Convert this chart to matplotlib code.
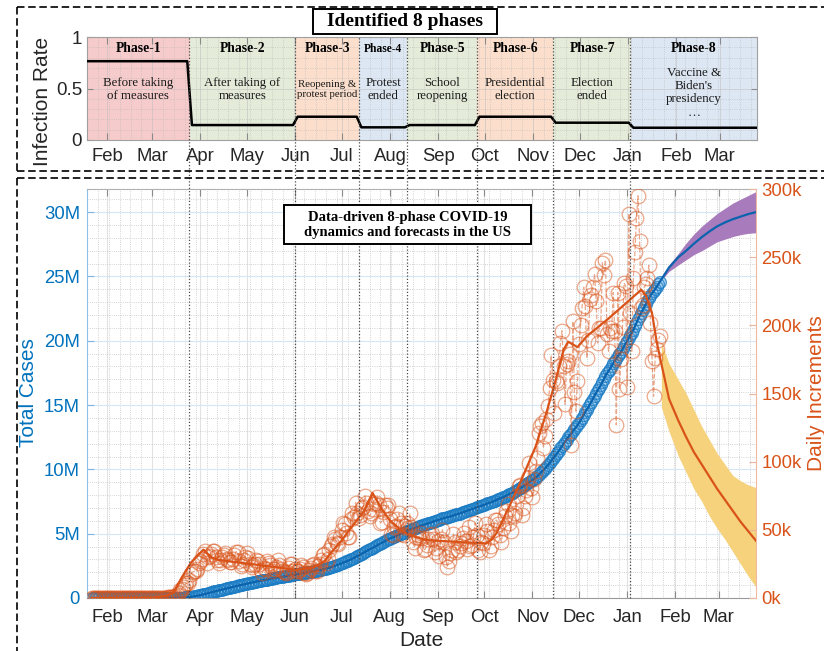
import numpy as np
import pandas as pd
import matplotlib
matplotlib.use('Agg')
import matplotlib.pyplot as plt
import matplotlib.dates as mdates
from matplotlib.lines import Line2D
from matplotlib.patches import Rectangle
from matplotlib import transforms
from matplotlib.ticker import MultipleLocator, FixedLocator

BLUE = '#0072BD'
ORANGE = '#D95319'
SERIF = 'Liberation Serif'
SANS = 'Liberation Sans'
plt.rcParams['font.family'] = [SANS, 'DejaVu Sans']

x_start, x_end = '2020-01-19', '2021-03-25'

# phases (start date, infection rate, colour, labels)
phase_names = ['Phase-1', 'Phase-2', 'Phase-3', 'Phase-4',
               'Phase-5', 'Phase-6', 'Phase-7', 'Phase-8']
phase_notes = ['Before taking\nof measures', 'After taking of\nmeasures',
               'Reopening &\nprotest period', 'Protest\nended',
               'School\nreopening', 'Presidential\nelection',
               'Election\nended', "Vaccine &\nBiden's\npresidency\n\u2026"]
phase_starts = ['2020-01-19', '2020-03-25', '2020-06-01', '2020-07-12',
                '2020-08-12', '2020-09-26', '2020-11-14', '2021-01-03']
phase_rates = [0.765, 0.145, 0.226, 0.123, 0.145, 0.226, 0.168, 0.119]
phase_colors = ['#f6cbcb', '#e4ebd8', '#fbdfcc', '#dde7f3',
                '#e4ebd8', '#fbdfcc', '#e4ebd8', '#dde7f3']

# daily new cases (thousands), starting 2020-01-22
daily_start = '2020-01-22'
daily_k = [
    # Jan
    0.001, 0, 0.001, 0.001, 0.002, 0, 0, 0, 0, 0.001,
    # Feb
    0.001, 0, 0.003, 0, 0, 0.001, 0, 0, 0, 0.001, 0.001, 0.001, 0, 0, 0,
    0, 0, 0, 0, 0.002, 0.013, 0, 0.001, 0.002, 0.001, 0.003, 0.001, 0.004, 0.005,
    # Mar
    0.01, 0.02, 0.03, 0.03, 0.07, 0.1, 0.1, 0.12, 0.2, 0.3, 0.4, 0.5, 0.7, 0.8, 1.0,
    1.7, 2.3, 3.6, 5.6, 6.4, 7.8, 9.3, 11.0, 10.9, 13.5, 17.8, 19.0, 19.6, 19.9, 21.0, 25.4,
    # Apr
    27.0, 28.9, 32.6, 34.5, 25.6, 29.8, 31.0, 32.4, 34.4, 34.5, 30.3, 27.8, 25.9, 28.0, 30.4,
    31.3, 33.1, 28.6, 27.6, 26.6, 26.6, 28.7, 31.4, 34.0, 34.0, 27.0, 23.5, 25.0, 27.6, 30.0,
    # May
    33.0, 29.0, 25.0, 22.5, 24.0, 24.7, 28.0, 27.5, 25.0, 20.5, 18.5, 22.0, 21.0, 27.0, 25.5,
    24.0, 19.5, 21.0, 21.0, 22.5, 28.0, 24.0, 21.5, 19.6, 19.0, 18.0, 19.3, 22.0, 24.6, 25.0, 20.0,
    # Jun
    21.0, 20.0, 19.5, 21.0, 24.0, 22.6, 18.5, 17.5, 18.0, 20.8, 22.0, 24.0, 25.0, 19.5, 19.5,
    23.4, 25.3, 28.0, 31.5, 32.0, 26.0, 28.5, 35.0, 38.0, 39.5, 45.0, 43.0, 40.0, 39.5, 45.0,
    # Jul
    50.0, 55.0, 54.0, 48.0, 45.0, 45.0, 58.0, 62.0, 59.5, 70.0, 62.0, 59.0, 61.0, 66.0, 67.0,
    75.0, 70.0, 64.0, 60.0, 62.0, 65.0, 69.0, 70.0, 74.0, 68.0, 55.0, 56.0, 63.0, 68.0, 66.0, 68.0,
    # Aug
    58.0, 47.0, 46.0, 52.0, 53.0, 58.0, 62.0, 55.0, 47.0, 46.0, 53.0, 55.0, 51.0, 62.0, 52.0,
    41.0, 37.0, 45.0, 46.0, 44.0, 48.0, 44.0, 35.0, 36.0, 39.0, 43.0, 46.0, 47.0, 43.0, 34.0, 37.0,
    # Sep
    42, 31, 43, 50, 41, 30, 23, 27, 33, 35, 47, 41, 34, 35, 38,
    40, 44, 48, 42, 36, 52, 38, 39, 45, 55, 46, 35, 34, 41, 40,
    # Oct
    46, 54, 49, 35, 38, 45, 50, 57, 57, 54, 46, 41, 51, 60, 64,
    69, 55, 49, 61, 60, 62, 75, 82, 83, 61, 66, 75, 79, 88, 99, 81,
    # Nov
    74, 87, 93, 103, 121, 126, 128, 110, 119, 131, 141, 154, 178, 160, 136,
    159, 158, 170, 187, 196, 170, 142, 172, 174, 179, 112, 203, 151, 137, 159,
    # Dec
    186, 200, 213, 228, 214, 176, 189, 219, 222, 228, 238, 218, 187, 198, 198,
    246, 237, 248, 194, 181, 198, 196, 224, 196, 127, 224, 153, 175, 199, 231, 229,
    # Jan 2021
    155, 282, 209, 181, 235, 254, 279, 295, 262, 213, 215, 228, 230, 235, 244,
    202, 174, 148, 176, 183, 189, 192,
]

# fitted daily increments (thousands) and its forecast
fit_dates = ['2020-01-22', '2020-03-01', '2020-03-10', '2020-03-15', '2020-03-20',
             '2020-03-26', '2020-04-03', '2020-04-08', '2020-04-12', '2020-05-03',
             '2020-05-24', '2020-06-02', '2020-06-13', '2020-06-20', '2020-06-24',
             '2020-07-01', '2020-07-06', '2020-07-15', '2020-07-21', '2020-07-27',
             '2020-08-01', '2020-08-08', '2020-08-14', '2020-08-24', '2020-09-15',
             '2020-10-02', '2020-10-06', '2020-10-09', '2020-10-17', '2020-10-25',
             '2020-11-03', '2020-11-10', '2020-11-16', '2020-11-21', '2020-11-24',
             '2020-11-27', '2020-11-30', '2020-12-06', '2020-12-20', '2021-01-01',
             '2021-01-10', '2021-01-13', '2021-01-17', '2021-01-20', '2021-01-23',
             '2021-01-28', '2021-02-03', '2021-02-08', '2021-02-13', '2021-02-18',
             '2021-02-23', '2021-02-28', '2021-03-05', '2021-03-10', '2021-03-15',
             '2021-03-20', '2021-03-25']
fit_k = [0, 0.3, 1.5, 4, 15,
         26, 35.5, 30, 28, 25,
         22, 20.6, 22.5, 27, 33,
         42, 50, 63, 77, 65,
         57, 50, 46, 42.6, 41,
         40, 43, 48, 67, 87,
         111, 136, 160, 182, 188,
         186, 184, 192, 205, 217,
         226, 222, 209, 188, 172,
         146, 130, 118, 107, 98,
         89, 80, 72, 64, 56,
         49, 42]

# forecast bands
fc_dates = ['2021-01-23', '2021-01-28', '2021-02-03', '2021-02-08', '2021-02-13',
            '2021-02-18', '2021-02-23', '2021-02-28', '2021-03-05', '2021-03-10',
            '2021-03-15', '2021-03-20', '2021-03-25']
fc_daily_lo_k = [140, 122, 104, 92, 80, 71, 60, 51, 43, 34, 25, 16, 8]
fc_daily_hi_k = [187, 172, 160, 150, 138, 126, 116, 106, 98, 90, 86, 83, 81]
fc_total_m = [24.8, 25.7, 26.5, 27.0, 27.55, 28.05, 28.5, 28.9, 29.2, 29.45, 29.65, 29.85, 30.0]
fc_total_lo_m = [24.7, 25.4, 25.9, 26.3, 26.7, 27.0, 27.35, 27.7, 27.9, 28.1, 28.25, 28.35, 28.4]
fc_total_hi_m = [24.9, 25.9, 26.8, 27.6, 28.3, 28.9, 29.4, 29.9, 30.3, 30.7, 31.0, 31.3, 31.6]

left_ticks = [0, 5e6, 10e6, 15e6, 20e6, 25e6, 30e6]
left_labels = ['0', '5M', '10M', '15M', '20M', '25M', '30M']
right_ticks = [0, 50e3, 100e3, 150e3, 200e3, 250e3, 300e3]
right_labels = ['0k', '50k', '100k', '150k', '200k', '250k', '300k']

# ---------------------------------------------------------------------------
W, H = 824, 651
fig = plt.figure(figsize=(W / 100, H / 100), dpi=100)


def fx(px):
    return px / W


def fy(py):
    return 1 - py / H


xlo = mdates.date2num(pd.Timestamp(x_start))
xhi = mdates.date2num(pd.Timestamp(x_end))

ax_top = fig.add_axes([fx(87), fy(140), fx(757) - fx(87), fy(37) - fy(140)])
ax = fig.add_axes([fx(87), fy(598), fx(756) - fx(87), fy(189) - fy(598)])
ax2 = ax.twinx()


def month_axis(a, pad):
    a.set_xlim(xlo, xhi)
    a.xaxis.set_major_locator(mdates.MonthLocator())
    a.xaxis.set_major_formatter(mdates.DateFormatter('%b'))
    a.xaxis.set_minor_locator(mdates.WeekdayLocator(byweekday=mdates.SU))
    a.tick_params(axis='x', which='major', direction='in', top=True, length=5,
                  color='#8a8a8a', labelsize=13.3, pad=pad, labelcolor='#262626')
    a.tick_params(which='minor', length=0)


# ---- top panel: infection rate by phase ----
edges = [mdates.date2num(pd.Timestamp(d)) for d in phase_starts] + [xhi]
for i, c in enumerate(phase_colors):
    ax_top.axvspan(edges[i], edges[i + 1], color=c, lw=0, zorder=0.2)

ramp = 1.5
rx, ry = [], []
for i, r in enumerate(phase_rates):
    a = edges[i] + (ramp if i > 0 else 0)
    b = edges[i + 1] - (ramp if i < len(phase_rates) - 1 else 0)
    rx += [a, b]
    ry += [r, r]
ax_top.plot(rx, ry, color='black', lw=1.8, zorder=3)

for i, (name, note) in enumerate(zip(phase_names, phase_notes)):
    mid = (edges[i] + edges[i + 1]) / 2
    ax_top.text(mid, 0.885, name, family=SERIF, weight='bold',
                fontsize=8.3 if name == 'Phase-4' else 9.8,
                ha='center', va='center', zorder=4)
    note_size = 7.8 if name == 'Phase-3' else 9.3
    ax_top.text(mid, 0.46 if name == 'Phase-8' else 0.49, note, family=SERIF,
                fontsize=note_size, ha='center', va='center',
                linespacing=1.15, zorder=4, color='#1a1a1a')

ax_top.set_ylim(0, 1)
ax_top.set_yticks([0, 0.5, 1])
ax_top.set_yticklabels(['0', '0.5', '1'])
ax_top.yaxis.set_minor_locator(MultipleLocator(0.1))
ax_top.tick_params(axis='y', which='major', direction='in', right=True, length=4,
                   color='#8a8a8a', labelsize=13.5, pad=3.5, labelcolor='#262626')
month_axis(ax_top, 6)
ax_top.set_axisbelow(True)
ax_top.grid(which='major', color='#bdbdbd', lw=0.6, alpha=0.6)
ax_top.grid(which='minor', color='#b5b5b5', lw=0.6, ls=':', alpha=0.7)
for s in ax_top.spines.values():
    s.set_color('#a0a0a0')
    s.set_linewidth(0.8)

# ---- bottom panel: totals (left) and daily increments (right) ----
dates = pd.date_range(daily_start, periods=len(daily_k), freq='D')
daily = np.array(daily_k, dtype=float) * 1e3
total = np.cumsum(daily)
fcd = pd.to_datetime(fc_dates)

ax.fill_between(fcd, np.array(fc_total_lo_m) * 1e6, np.array(fc_total_hi_m) * 1e6,
                color='#a87bbd', lw=0, zorder=1.5)
ax.plot(dates, total, ls='none', marker='o', ms=8.5, mfc='#a9d0ef',
        mec='none', zorder=1.8)
ax.plot(dates, total, ls='none', marker='o', ms=8.5, mfc='none',
        mec='#1a7cc4', mew=0.9, alpha=0.75, zorder=2)
line_dates = np.concatenate([dates.values, fcd.values[1:]])
line_total = np.concatenate([total, np.array(fc_total_m[1:]) * 1e6])
ax.plot(line_dates, line_total, color='#0a63ad', lw=1.6, zorder=3)

ax.set_ylim(0, 31.8e6)
ax.yaxis.set_major_locator(FixedLocator(left_ticks))
ax.set_yticklabels(left_labels)
ax.yaxis.set_minor_locator(MultipleLocator(1e6))
ax.tick_params(axis='y', which='major', direction='in', length=5, color='#7fb4de',
               labelsize=13.3, labelcolor=BLUE, pad=5)
month_axis(ax, 8)
ax.set_axisbelow(True)
ax.grid(which='major', axis='y', color='#d5e6f4', lw=0.8)
ax.grid(which='major', axis='x', color='#e2e2e2', lw=0.8)
ax.grid(which='minor', color='#c4c4c4', lw=0.6, ls=':')
ax.spines['left'].set_color('#8fc0e6')
ax.spines['right'].set_visible(False)
ax.spines['top'].set_color('#b0b0b0')
ax.spines['bottom'].set_color('#9a9a9a')

ax2.fill_between(fcd, np.array(fc_daily_lo_k) * 1e3, np.array(fc_daily_hi_k) * 1e3,
                 color='#f6d27c', lw=0, zorder=1)
ax2.plot(dates, daily, ls='--', lw=0.9, color=ORANGE, alpha=0.5, marker='o', ms=10.5,
         mfc='none', mec=ORANGE, mew=0.9, zorder=2)
ax2.plot(pd.to_datetime(fit_dates), np.array(fit_k) * 1e3, color=ORANGE, lw=1.6, zorder=3)
ax2.set_ylim(0, 300e3)
ax2.yaxis.set_major_locator(FixedLocator(right_ticks))
ax2.set_yticklabels(right_labels)
ax2.tick_params(axis='y', direction='in', length=5, color='#eab59c',
                labelsize=13.3, labelcolor=ORANGE, pad=4)
for side in ('left', 'top', 'bottom'):
    ax2.spines[side].set_visible(False)
ax2.spines['right'].set_color('#eeb9a0')
ax2.set_xlim(xlo, xhi)

# phase boundaries run through both panels
trans = transforms.blended_transform_factory(ax.transData, fig.transFigure)
for d in edges[1:-1]:
    fig.add_artist(Line2D([d, d], [fy(598), fy(37)], transform=trans,
                          color='#4a4a4a', lw=0.9, ls=(0, (1, 1.6)), zorder=5))

# axis labels
fig.text(fx(43), fy(101), 'Infection Rate', rotation=90, ha='center', va='center',
         fontsize=15, color='#262626')
fig.text(fx(29), fy(393), 'Total Cases', rotation=90, ha='center', va='center',
         fontsize=15, color=BLUE)
fig.text(fx(816), fy(393), 'Daily Increments', rotation=90, ha='center', va='center',
         fontsize=15, color=ORANGE)
fig.text(fx(421), fy(640), 'Date', ha='center', va='center', fontsize=15,
         color='#262626')

# boxed titles
fig.add_artist(Rectangle((fx(313), fy(34)), fx(497) - fx(313), fy(9) - fy(34),
                         transform=fig.transFigure, fc='white', ec='black',
                         lw=1.4, zorder=6))
fig.text(fx(405), fy(21.5), 'Identified 8 phases', family=SERIF, weight='bold',
         fontsize=14, ha='center', va='center', zorder=7)
fig.add_artist(Rectangle((fx(284), fy(244)), fx(531) - fx(284), fy(205) - fy(244),
                         transform=fig.transFigure, fc='white', ec='black',
                         lw=1.4, zorder=6))
fig.text(fx(407.5), fy(225), 'Data-driven 8-phase COVID-19\ndynamics and forecasts in the US',
         family=SERIF, weight='bold', fontsize=10.5, ha='center', va='center',
         linespacing=1.25, zorder=7)

# dashed panel frames
dash = dict(color='black', lw=1.2, ls=(0, (4.5, 2.2)), transform=fig.transFigure, zorder=8)
fig.add_artist(Line2D([fx(17), 1.0], [fy(7), fy(7)], **dash))
fig.add_artist(Line2D([fx(17), 1.0], [fy(171), fy(171)], **dash))
fig.add_artist(Line2D([fx(17), fx(17)], [fy(7), fy(171)], **dash))
fig.add_artist(Line2D([fx(17), 1.0], [fy(178), fy(178)], **dash))
fig.add_artist(Line2D([fx(17), fx(17)], [fy(178), 0.0], **dash))

fig.savefig('out.png', dpi=100)
